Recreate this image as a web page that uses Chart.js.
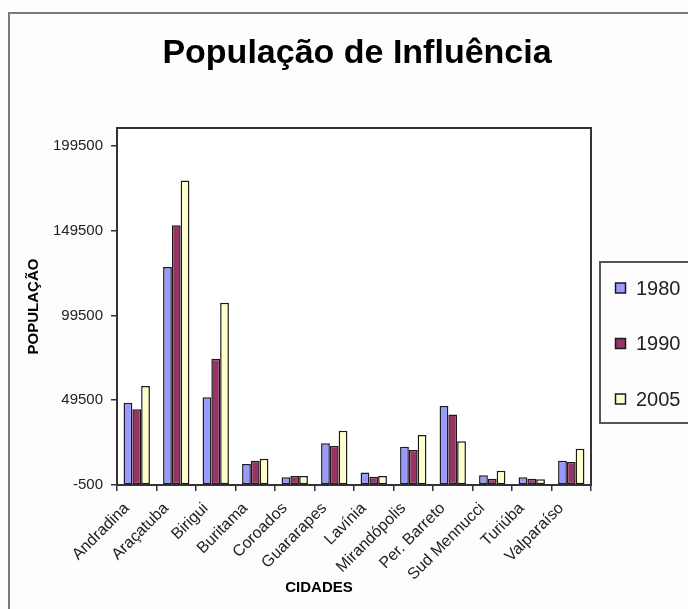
<!DOCTYPE html>
<html>
<head>
<meta charset="utf-8">
<script src="https://cdn.jsdelivr.net/npm/chart.js@4/dist/chart.umd.min.js"></script>
<style>
  html, body { margin: 0; padding: 0; background: #ffffff; }
  #wrap { width: 688px; height: 609px; position: relative; }
</style>
</head>
<body>
<div id="wrap"><canvas id="c" width="688" height="609"></canvas></div>
<script>
const chartTitle = 'População de Influência';
const xTitle = 'CIDADES';
const yTitle = 'POPULAÇÃO';
const categories = ['Andradina', 'Araçatuba', 'Birigui', 'Buritama', 'Coroados', 'Guararapes',
  'Lavínia', 'Mirandópolis', 'Per. Barreto', 'Sud Mennucci', 'Turiúba', 'Valparaíso'];
const seriesLabels = ['1980', '1990', '2005'];
const values1980 = [48000, 128000, 51200, 11900, 4000, 24100, 6800, 22100, 46100, 5200, 4000, 13800];
const values1990 = [44200, 152700, 74000, 13800, 4800, 22500, 4400, 20100, 41000, 3200, 3200, 13100];
const values2005 = [57900, 179000, 107000, 15000, 4800, 31500, 4800, 29000, 25300, 7900, 2900, 20900];
const yTickValues = [-500, 49500, 99500, 149500, 199500];
const yMin = -500;
const yMax = 210000;

const FONT = '"Liberation Sans", Arial, sans-serif';
const colors = ['#9999FF', '#993366', '#FFFFCC'];

const decorPlugin = {
  id: 'decor',
  beforeDraw(chart) {
    const ctx = chart.ctx;
    ctx.save();
    ctx.fillStyle = '#fdfdfd';
    ctx.fillRect(0, 0, chart.width, chart.height);
    const a = chart.chartArea;
    ctx.fillStyle = '#ffffff';
    ctx.fillRect(a.left, a.top, a.right - a.left, a.bottom - a.top);
    // outer frame
    ctx.strokeStyle = '#7a7a7a';
    ctx.lineWidth = 2;
    ctx.strokeRect(9, 13, 900, 900);
    ctx.restore();
  },
  afterDraw(chart) {
    const ctx = chart.ctx;
    const a = chart.chartArea;
    ctx.save();
    // plot area border
    ctx.strokeStyle = '#333333';
    ctx.lineWidth = 2;
    ctx.strokeRect(a.left, a.top, a.right - a.left, a.bottom - a.top);
    // title
    ctx.fillStyle = '#000000';
    ctx.font = 'bold 34px ' + FONT;
    ctx.textAlign = 'center';
    ctx.textBaseline = 'alphabetic';
    ctx.fillText(chartTitle, 357, 63);
    // x axis title
    ctx.font = 'bold 15px ' + FONT;
    ctx.textBaseline = 'middle';
    ctx.fillText(xTitle, 319, 588);
    // legend box
    ctx.strokeStyle = '#555555';
    ctx.lineWidth = 2;
    ctx.strokeRect(600, 262, 200, 161);
    ctx.font = '20px ' + FONT;
    ctx.textAlign = 'left';
    chart.data.datasets.forEach((ds, i) => {
      const cy = 288 + i * 55.5;
      ctx.fillStyle = ds.backgroundColor;
      ctx.fillRect(615.5, cy - 5, 10, 10);
      ctx.strokeStyle = '#1a1a1a';
      ctx.lineWidth = 1.5;
      ctx.strokeRect(615.5, cy - 5, 10, 10);
      ctx.fillStyle = '#222222';
      ctx.fillText(ds.label, 636, cy + 1);
    });
    ctx.restore();
  }
};

const datasets = [values1980, values1990, values2005].map((vals, i) => ({
  label: seriesLabels[i],
  data: vals,
  backgroundColor: colors[i],
  borderColor: '#1a1a1a',
  borderWidth: 1.5,
  borderSkipped: false,
  base: yMin
}));

new Chart(document.getElementById('c'), {
  type: 'bar',
  data: { labels: categories, datasets },
  options: {
    responsive: false,
    animation: false,
    devicePixelRatio: 1,
    layout: { padding: { top: 128, left: 0, right: 97, bottom: 0 } },
    datasets: { bar: { categoryPercentage: 0.667, barPercentage: 1.0 } },
    plugins: {
      legend: { display: false },
      title: { display: false },
      tooltip: { enabled: false }
    },
    scales: {
      x: {
        grid: { display: true, drawOnChartArea: false, drawTicks: true, tickLength: 6, color: '#333333', lineWidth: 1.5, offset: true },
        border: { display: true, color: '#333333', width: 2 },
        ticks: { font: { size: 16, family: FONT }, color: '#222222', minRotation: 45, maxRotation: 45, autoSkip: false, padding: 8, labelOffset: -10 },
        afterFit: (s) => { s.height = 124; }
      },
      y: {
        min: yMin,
        max: yMax,
        afterBuildTicks: (s) => { s.ticks = yTickValues.map(v => ({ value: v })); },
        grid: { drawOnChartArea: false, drawTicks: true, tickLength: 6, color: '#333333', lineWidth: 1.5 },
        border: { display: true, color: '#333333', width: 2 },
        ticks: { font: { size: 15, family: FONT }, color: '#222222', padding: 8, callback: (v) => String(v) },
        title: { display: true, text: yTitle, font: { size: 15, weight: 'bold', family: FONT }, color: '#000000', padding: { top: 25, bottom: 0 } },
        afterFit: (s) => { s.width = 117; }
      }
    }
  },
  plugins: [decorPlugin]
});
</script>
</body>
</html>
